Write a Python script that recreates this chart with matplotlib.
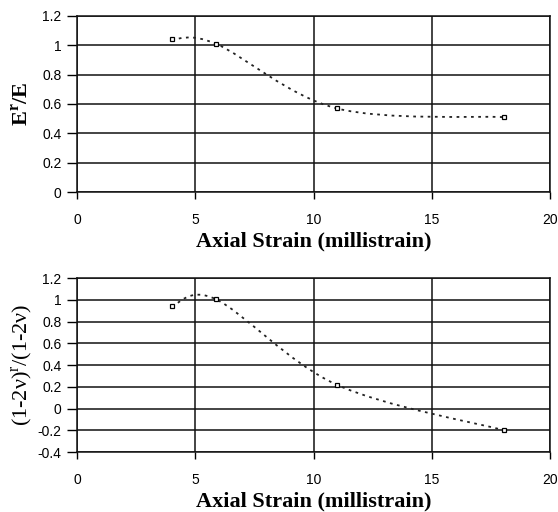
import numpy as np
import matplotlib
matplotlib.use("Agg")
import matplotlib.pyplot as plt
from matplotlib.path import Path
from matplotlib.patches import PathPatch

# Data
strain = [4.0, 5.87, 10.97, 18.06]
e_ratio = [1.04, 1.01, 0.57, 0.51]
nu_ratio = [0.94, 1.005, 0.22, -0.20]

x_ticks = [0, 5, 10, 15, 20]
top_yticks = [0, 0.2, 0.4, 0.6, 0.8, 1, 1.2]
bot_yticks = [-0.4, -0.2, 0, 0.2, 0.4, 0.6, 0.8, 1, 1.2]

plt.rcParams['font.family'] = ['Liberation Sans', 'DejaVu Sans']

fig = plt.figure(figsize=(5.58, 5.12), dpi=100)
ax1 = fig.add_axes([0.138, 0.625, 0.848, 0.344])
ax2 = fig.add_axes([0.138, 0.117, 0.848, 0.340])


def smooth_path(xs, ys):
    # Excel-style smoothed line: cubic Bezier segments with Catmull-Rom tangents
    pts = np.column_stack([xs, ys]).astype(float)
    n = len(pts)
    verts = [pts[0]]
    codes = [Path.MOVETO]
    for i in range(n - 1):
        p0 = pts[i - 1] if i > 0 else pts[i]
        p1 = pts[i]
        p2 = pts[i + 1]
        p3 = pts[i + 2] if i + 2 < n else pts[i + 1]
        c1 = p1 + (p2 - p0) / 6.0
        c2 = p2 - (p3 - p1) / 6.0
        verts += [c1, c2, p2]
        codes += [Path.CURVE4] * 3
    return Path(verts, codes)


def style(ax, yticks, ymin, ymax):
    ax.set_xlim(0, 20)
    ax.set_ylim(ymin, ymax)
    ax.set_xticks(x_ticks)
    ax.set_yticks(yticks)
    ax.set_yticklabels([('%g' % v) for v in yticks])
    ax.grid(True, color='#111111', linewidth=1.1)
    ax.set_axisbelow(True)
    for s in ax.spines.values():
        s.set_linewidth(1.1)
        s.set_color('#111111')
    ax.tick_params(axis='x', direction='out', length=5, width=1, pad=10,
                   labelsize=10)
    ax.tick_params(axis='y', direction='out', length=7, width=1, pad=4,
                   labelsize=10)


for ax, ys, yt, lo, hi in [(ax1, e_ratio, top_yticks, 0, 1.2),
                           (ax2, nu_ratio, bot_yticks, -0.4, 1.2)]:
    style(ax, yt, lo, hi)
    patch = PathPatch(smooth_path(strain, ys), facecolor='none',
                      edgecolor='#222222', linewidth=1.3,
                      linestyle=(0, (1.5, 2.5)), zorder=3)
    ax.add_patch(patch)
    ax.plot(strain, ys, linestyle='none', marker='s', markersize=3.5,
            markerfacecolor='white', markeredgecolor='black',
            markeredgewidth=0.9, zorder=4)
    ax.set_xlabel('Axial Strain (millistrain)', family='Liberation Serif',
                  fontweight='bold', fontsize=16, labelpad=3)

ax1.set_ylabel(r'E$^{\mathregular{r}}$/E', family='Liberation Serif',
               fontweight='bold', fontsize=16, labelpad=7)
ax2.set_ylabel('(1-2\u03bd)$^{\\mathregular{r}}$/(1-2\u03bd)',
               family=['Liberation Serif', 'DejaVu Serif'],
               fontsize=16, labelpad=2)

fig.savefig('out.png', dpi=100)
